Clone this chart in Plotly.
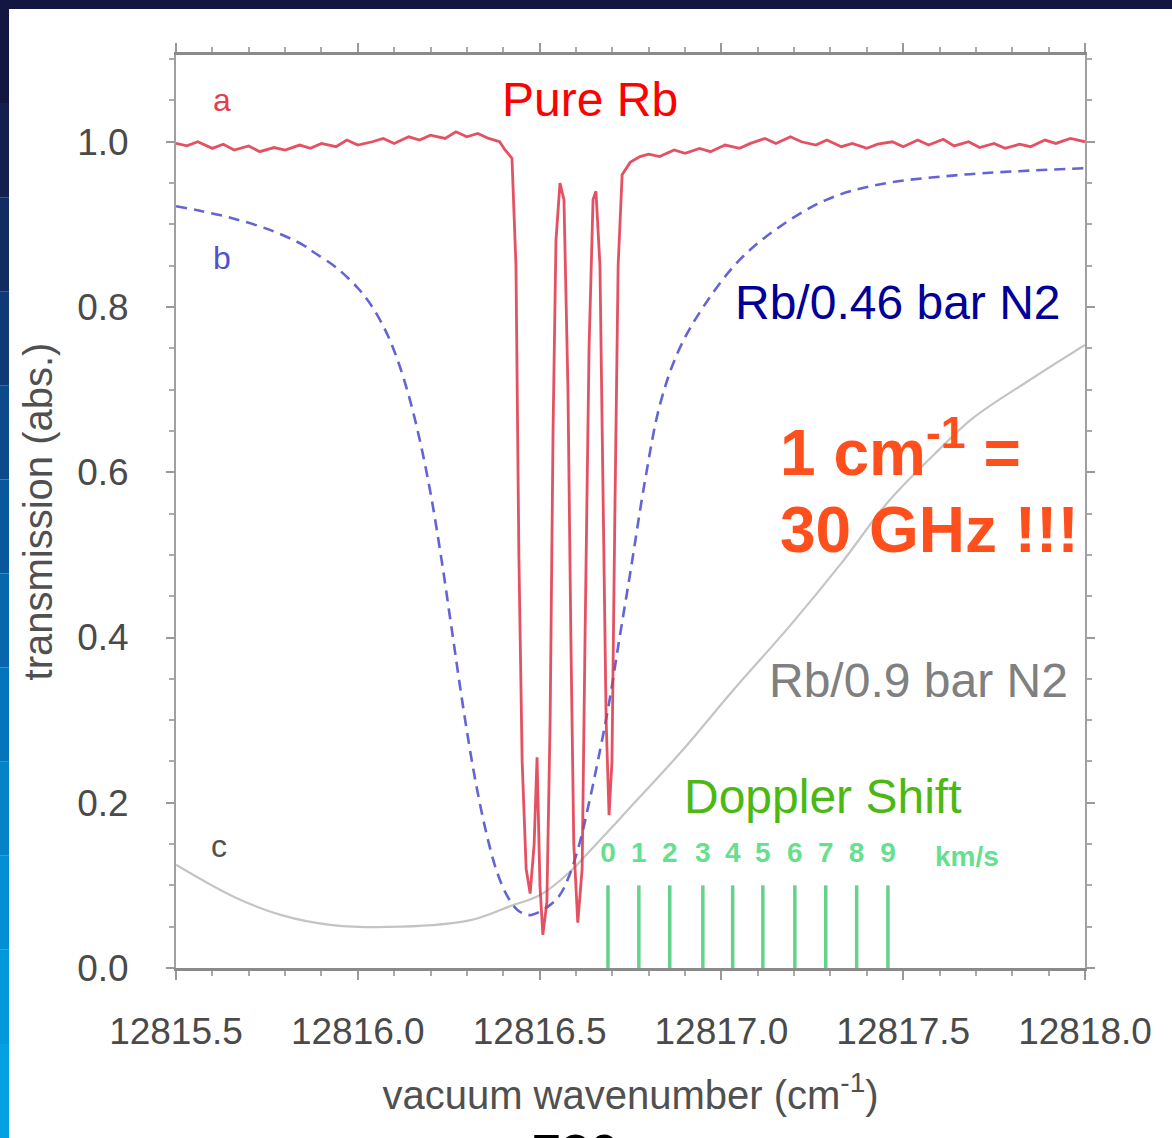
import plotly.graph_objects as go

# ---------------- data ----------------
# a: pure Rb (transmission vs vacuum wavenumber, cm^-1)
pure_x = [12815.50, 12815.53, 12815.56, 12815.60, 12815.63, 12815.66, 12815.70, 12815.73,
          12815.77, 12815.80, 12815.84, 12815.87, 12815.90, 12815.94, 12815.97, 12816.00,
          12816.04, 12816.07, 12816.10, 12816.14, 12816.17, 12816.20, 12816.24, 12816.27,
          12816.30, 12816.33, 12816.36, 12816.39, 12816.405, 12816.424, 12816.435, 12816.443,
          12816.452, 12816.463, 12816.474, 12816.485, 12816.493, 12816.501, 12816.509, 12816.520,
          12816.529, 12816.537, 12816.545, 12816.556, 12816.567, 12816.578, 12816.586, 12816.594,
          12816.605, 12816.617, 12816.625, 12816.636, 12816.647, 12816.655, 12816.666, 12816.674,
          12816.683, 12816.691, 12816.699, 12816.707, 12816.716, 12816.727, 12816.749, 12816.776,
          12816.80, 12816.83, 12816.87, 12816.90, 12816.94, 12816.97, 12817.01, 12817.05,
          12817.08, 12817.12, 12817.15, 12817.19, 12817.22, 12817.26, 12817.29, 12817.33,
          12817.36, 12817.40, 12817.43, 12817.47, 12817.50, 12817.54, 12817.57, 12817.61,
          12817.64, 12817.68, 12817.71, 12817.75, 12817.78, 12817.82, 12817.85, 12817.89,
          12817.92, 12817.96, 12818.00]
pure_y = [0.998, 0.995, 1.000, 0.992, 0.997, 0.990, 0.995, 0.988,
          0.993, 0.990, 0.996, 0.992, 0.998, 0.994, 1.002, 0.996,
          1.000, 1.004, 0.998, 1.006, 1.002, 1.008, 1.004, 1.012,
          1.006, 1.010, 1.004, 1.000, 0.990, 0.980, 0.850, 0.500,
          0.250, 0.120, 0.090, 0.150, 0.255, 0.100, 0.040, 0.080,
          0.300, 0.650, 0.880, 0.950, 0.930, 0.700, 0.400, 0.150,
          0.055, 0.120, 0.400, 0.750, 0.930, 0.940, 0.850, 0.600,
          0.300, 0.185, 0.250, 0.550, 0.850, 0.960, 0.975, 0.982,
          0.985, 0.982, 0.990, 0.986, 0.992, 0.988, 0.996, 0.992,
          0.998, 1.004, 0.998, 1.006, 1.000, 0.996, 1.002, 0.994,
          0.998, 0.992, 0.997, 1.000, 0.994, 1.002, 0.996, 1.003,
          0.995, 1.000, 0.993, 0.998, 0.992, 0.997, 0.994, 1.002,
          0.998, 1.004, 1.000]

# b: Rb / 0.46 bar N2
b_x = [12815.50, 12815.56, 12815.65, 12815.76, 12815.85, 12815.88, 12815.94, 12816.00,
       12816.04, 12816.08, 12816.11, 12816.14, 12816.17, 12816.20, 12816.23, 12816.26,
       12816.29, 12816.32, 12816.35, 12816.38, 12816.41, 12816.44, 12816.47, 12816.50,
       12816.55, 12816.58, 12816.61, 12816.635, 12816.66, 12816.69, 12816.72, 12816.75,
       12816.79, 12816.83, 12816.88, 12816.95, 12817.05, 12817.16, 12817.29, 12817.43,
       12817.66, 12818.00]
b_y = [0.922, 0.917, 0.908, 0.893, 0.875, 0.866, 0.848, 0.823,
       0.800, 0.768, 0.735, 0.693, 0.640, 0.575, 0.495, 0.405,
       0.315, 0.235, 0.170, 0.120, 0.088, 0.070, 0.064, 0.068,
       0.085, 0.110, 0.151, 0.198, 0.250, 0.318, 0.400, 0.480,
       0.590, 0.680, 0.745, 0.800, 0.857, 0.897, 0.930, 0.948,
       0.960, 0.968]

# c: Rb / 0.9 bar N2
c_x = [12815.50, 12815.66, 12815.79, 12815.93, 12816.12, 12816.31, 12816.42, 12816.50,
       12816.58, 12816.66, 12816.74, 12816.89, 12817.03, 12817.19, 12817.33, 12817.46,
       12817.60, 12817.69, 12817.86, 12818.00]
c_y = [0.125, 0.086, 0.064, 0.052, 0.050, 0.058, 0.075, 0.088,
       0.115, 0.152, 0.190, 0.262, 0.335, 0.415, 0.490, 0.565,
       0.628, 0.665, 0.715, 0.754]

# Doppler shift scale
doppler_kms = [0, 1, 2, 3, 4, 5, 6, 7, 8, 9]
doppler_pos = [12816.688, 12816.773, 12816.858, 12816.949, 12817.031,
               12817.114, 12817.202, 12817.287, 12817.372, 12817.458]
doppler_top = 0.10
doppler_label_y = 0.137

x_ticks = [12815.5, 12816.0, 12816.5, 12817.0, 12817.5, 12818.0]
y_ticks = [0.0, 0.2, 0.4, 0.6, 0.8, 1.0]

# ---------------- figure ----------------
W, H = 1172, 1138
ML, MR, MT, MB = 176, 87, 55, 170
PW, PH = W - ML - MR, H - MT - MB


def px2paper(px, py):
    return (px - ML) / PW, (H - MB - py) / PH


fig = go.Figure()

# gray curve c
fig.add_trace(go.Scatter(x=c_x, y=c_y, mode="lines", line=dict(color="#c4c4c4", width=2.2, shape="spline"),
                         showlegend=False, hoverinfo="skip"))
# blue dashed curve b
fig.add_trace(go.Scatter(x=b_x, y=b_y, mode="lines",
                         line=dict(color="#6464d4", width=2.6, dash="11px,7px", shape="spline", smoothing=1.0),
                         showlegend=False, hoverinfo="skip"))
# Doppler bars
dx, dy = [], []
for p in doppler_pos:
    dx += [p, p, None]
    dy += [0, doppler_top, None]
fig.add_trace(go.Scatter(x=dx, y=dy, mode="lines", line=dict(color="rgba(60,200,110,0.8)", width=3.5),
                         showlegend=False, hoverinfo="skip"))
fig.add_trace(go.Scatter(x=doppler_pos, y=[doppler_label_y] * len(doppler_pos), mode="text",
                         text=[str(v) for v in doppler_kms],
                         textfont=dict(family="Liberation Sans", size=28, color="#66e090", weight="bold"),
                         showlegend=False, hoverinfo="skip"))
# red curve a
fig.add_trace(go.Scatter(x=pure_x, y=pure_y, mode="lines",
                         line=dict(color="rgba(222,50,70,0.85)", width=2.8),
                         showlegend=False, hoverinfo="skip"))

axis_font = dict(family="Liberation Sans", size=37, color="#4a4a4a")

fig.update_xaxes(range=[12815.5, 12818.0], tickvals=x_ticks, ticktext=[f"{v:.1f}" for v in x_ticks],
                 ticks="outside", ticklen=9, tickwidth=2, tickcolor="#999999",
                 minor=dict(dtick=0.1, ticks="outside", ticklen=5, tickcolor="#aaaaaa", tick0=12815.5),
                 showline=True, linecolor="#8a8a8a", linewidth=3, mirror="allticks",
                 showgrid=False, zeroline=False, tickfont=axis_font, ticklabelstandoff=20,
                 title=dict(text="vacuum wavenumber (cm<sup>-1</sup>)",
                            font=dict(family="Liberation Sans", size=40, color="#505050"), standoff=30))
fig.update_yaxes(range=[0, 1.105], tickvals=y_ticks, ticktext=[f"{v:.1f}" for v in y_ticks],
                 ticks="outside", ticklen=8, tickwidth=2, tickcolor="#999999",
                 minor=dict(dtick=0.05, ticks="outside", ticklen=5, tickcolor="#aaaaaa", tick0=0),
                 showline=True, linecolor="#a0a0a0", linewidth=2, mirror="allticks",
                 showgrid=False, zeroline=False, tickfont=axis_font, ticklabelstandoff=30,
                 title=dict(text="transmission (abs.)",
                            font=dict(family="Liberation Sans", size=40, color="#505050"), standoff=12))

# background decorations (slide frame)
shapes = []
x0, _ = px2paper(0, 0)
x1, _ = px2paper(W, 0)
_, ytop = px2paper(0, 0)
_, ystrip = px2paper(0, 9)
shapes.append(dict(type="rect", xref="paper", yref="paper", x0=x0, x1=x1, y0=ystrip, y1=ytop,
                   fillcolor="#121640", line=dict(width=0), layer="above"))
strip_cols = ["#121640", "#13204e", "#122c62", "#0f3a76", "#0c4a8a", "#0a589c", "#0866ac",
              "#0674bb", "#0582c8", "#048ed3", "#0398dc", "#03a0e2"]
n = len(strip_cols)
xs0, _ = px2paper(0, 0)
xs1, _ = px2paper(9, 0)
for i, col in enumerate(strip_cols):
    pyA = 9 + (H - 9) * i / n
    pyB = 9 + (H - 9) * (i + 1) / n
    _, yA = px2paper(0, pyA)
    _, yB = px2paper(0, pyB)
    shapes.append(dict(type="rect", xref="paper", yref="paper", x0=xs0, x1=xs1, y0=yB, y1=yA,
                       fillcolor=col, line=dict(width=0), layer="above"))
fig.update_layout(shapes=shapes)

ann = []


def add_text(text, px, py, size, color, xanchor="center", yanchor="middle", bold=False):
    x, y = px2paper(px, py)
    ann.append(dict(text=text, x=x, y=y, xref="paper", yref="paper", showarrow=False,
                    xanchor=xanchor, yanchor=yanchor,
                    font=dict(family="Liberation Sans", size=size, color=color,
                              weight="bold" if bold else "normal")))


add_text("Pure Rb", 590, 100, 48, "#ff0000")
add_text("Rb/0.46 bar N2", 898, 303, 48, "#000099")
add_text("1 cm<sup>-1</sup> =", 778, 448, 64, "#ff4f1c", xanchor="left", bold=True)
add_text("30 GHz !!!", 778, 530, 64, "#ff4f1c", xanchor="left", bold=True)
add_text("Rb/0.9 bar N2", 918, 680, 48, "#808080")
add_text("Doppler Shift", 822, 796, 48, "#4cb814")
add_text("km/s", 967, 856, 28, "#66e090", bold=True)
add_text("a", 222, 100, 32, "#e04050")
add_text("b", 222, 258, 32, "#5050d0")
add_text("c", 219, 846, 32, "#505050")
add_text("730", 575, 1122, 52, "#000000", yanchor="top", bold=True)
fig.update_layout(annotations=ann)

fig.update_layout(width=W, height=H, margin=dict(l=ML, r=MR, t=MT, b=MB),
                  paper_bgcolor="white", plot_bgcolor="white", showlegend=False)

fig.write_html("out.html")
